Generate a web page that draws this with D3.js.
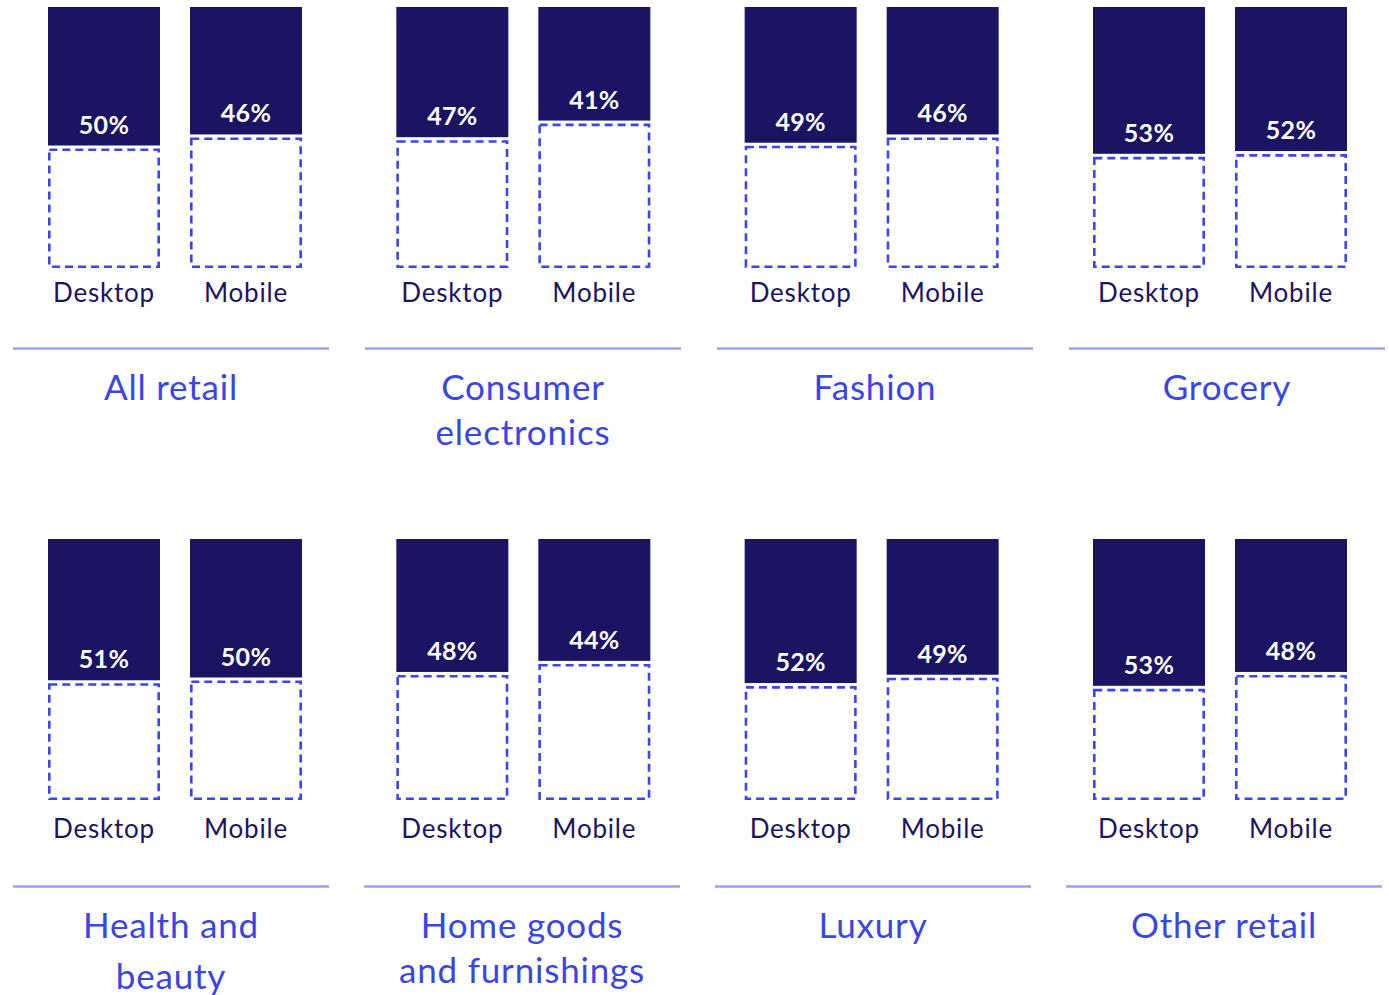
<!DOCTYPE html>
<html>
<head>
<meta charset="utf-8">
<script src="https://cdn.jsdelivr.net/npm/d3@7"></script>
<style>
  html, body { margin: 0; padding: 0; background: #ffffff; }
  svg { display: block; }
</style>
</head>
<body>
<svg id="chart" width="1389" height="995"></svg>
<script>
// Share of sessions per retail category, desktop vs mobile
const categories = ["All retail", "Consumer\nelectronics", "Fashion", "Grocery",
                    "Health and\nbeauty", "Home goods\nand furnishings", "Luxury", "Other retail"];
const devices = ["Desktop", "Mobile"];
const desktopShare = [50, 47, 49, 53, 51, 48, 52, 53];
const mobileShare  = [46, 41, 46, 52, 50, 44, 49, 48];

const NAVY = "#1b1462";
const DASH = "#3b45ef";
const RULE = "#9ca0f4";
const TITLE = "#3a45e6";
const FONT = "Lato, 'Open Sans', sans-serif";

const svg = d3.select("#chart");

// Layout per row of four panels
const rows = [
  { top: 7,   bottom: 268, label: 302, rule: 348.5, title: 400, ruleRange: [171, 1227] },
  { top: 539, bottom: 800, label: 838, rule: 886.5, title: 938, ruleRange: [171, 1224] }
];
const cols = 4;
// Title line spacing (one title sits a little looser)
const leading = name => name.startsWith("Health") ? 51 : 45;

// Bar-pair centres across the page
const panelX = d3.scaleLinear().domain([0, cols - 1]).range([175, 1220]);
// Bars within a pair
const barX = d3.scaleBand().domain(devices).range([-127, 127]).paddingInner(30 / 142).paddingOuter(0);
// Filled height per percentage point
const hScale = d3.scaleLinear().domain([0, 100]).range([0, 277]);

const data = categories.map((c, i) => ({
  name: c,
  row: Math.floor(i / cols),
  col: i % cols,
  values: [desktopShare[i], mobileShare[i]]
}));

const panels = svg.selectAll("g.panel").data(data).join("g").attr("class", "panel");

panels.each(function(d) {
  const g = d3.select(this);
  const r = rows[d.row];
  const bw = barX.bandwidth();
  const ruleX = d3.scaleLinear().domain([0, cols - 1]).range(r.ruleRange);

  const pair = g.append("g").attr("transform", `translate(${panelX(d.col)},0)`);
  const bars = pair.selectAll("g.bar").data(devices.map((dev, j) => ({ dev, v: d.values[j] })))
    .join("g").attr("class", "bar")
    .attr("transform", b => `translate(${barX(b.dev)},0)`);

  // filled share
  bars.append("rect")
    .attr("x", 0).attr("y", r.top)
    .attr("width", bw)
    .attr("height", b => hScale(b.v))
    .attr("fill", NAVY);

  // remaining share, dashed outline
  const sw = 2.6;
  bars.append("rect")
    .attr("x", sw / 2).attr("width", bw - sw)
    .attr("y", b => r.top + hScale(b.v) + 3 + sw / 2)
    .attr("height", b => r.bottom - (r.top + hScale(b.v) + 3) - sw)
    .attr("fill", "none")
    .attr("stroke", DASH)
    .attr("stroke-width", sw)
    .attr("stroke-dasharray", "8,5");

  // value label
  bars.append("text")
    .attr("x", bw / 2)
    .attr("y", b => r.top + hScale(b.v) - 12)
    .attr("text-anchor", "middle")
    .attr("fill", "#ffffff")
    .attr("font-family", FONT)
    .attr("font-weight", 700)
    .attr("font-size", 25)
    .attr("letter-spacing", 0.3)
    .text(b => b.v + "%");

  // device label
  bars.append("text")
    .attr("x", bw / 2)
    .attr("y", r.label)
    .attr("text-anchor", "middle")
    .attr("fill", NAVY)
    .attr("font-family", FONT)
    .attr("font-size", 26)
    .attr("letter-spacing", 0.8)
    .text(b => b.dev);

  // rule
  const cx = ruleX(d.col);
  g.append("line")
    .attr("x1", cx - 158).attr("x2", cx + 158)
    .attr("y1", r.rule).attr("y2", r.rule)
    .attr("stroke", RULE)
    .attr("stroke-width", 2.5);

  // category title
  const t = g.append("text")
    .attr("text-anchor", "middle")
    .attr("fill", TITLE)
    .attr("font-family", FONT)
    .attr("font-size", 35)
    .attr("letter-spacing", 0.8);
  d.name.split("\n").forEach((line, k) => {
    t.append("tspan").attr("x", cx).attr("y", r.title + k * leading(d.name)).text(line);
  });
});
</script>
</body>
</html>
